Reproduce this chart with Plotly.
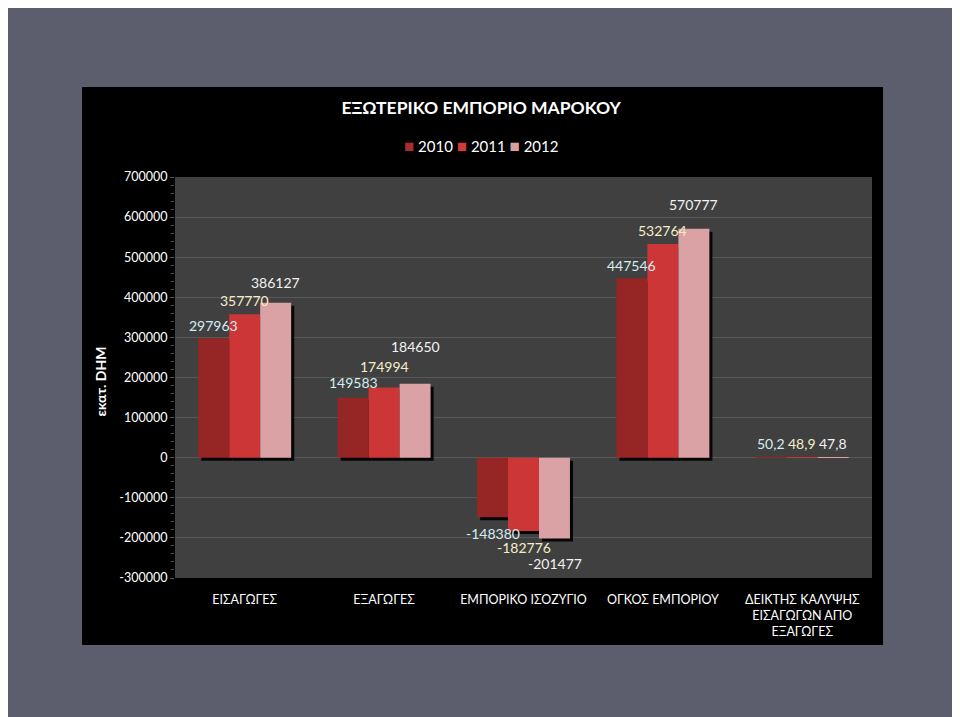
import plotly.graph_objects as go

categories = ['ΕΙΣΑΓΩΓΕΣ', 'ΕΞΑΓΩΓΕΣ', 'ΕΜΠΟΡΙΚΟ ΙΣΟΖΥΓΙΟ', 'ΟΓΚΟΣ ΕΜΠΟΡΙΟΥ',
              'ΔΕΙΚΤΗΣ ΚΑΛΥΨΗΣ<br>ΕΙΣΑΓΩΓΩΝ ΑΠΟ<br>ΕΞΑΓΩΓΕΣ']
years = ['2010', '2011', '2012']
v2010 = [297963, 149583, -148380, 447546, 50.2]
v2011 = [357770, 174994, -182776, 532764, 48.9]
v2012 = [386127, 184650, -201477, 570777, 47.8]
y_ticks = [-300000, -200000, -100000, 0, 100000, 200000, 300000, 400000, 500000, 600000, 700000]

series = [v2010, v2011, v2012]
bar_colors = ['#962525', '#cc3636', '#daa2a4']
legend_colors = ['#aa2c2c', '#d43a3a', '#d9a0a2']
label_colors = ['#d4ecf2', '#f4eec8', '#f2f2f2']
# px gap of each data label from its bar end (as placed in the original)
label_shift = [[13, 15, 16, 13, 14],
               [14, 21, 17, 14, 14],
               [20, 37, 25, 24, 14]]
BAR_W = 0.2222                  # bar width in category units
bar_px = 31                     # same width in pixels (for label offsets)
SH_X = 0.022                    # shadow offset (category units, ~3px)
SH_Y = 7500                     # shadow offset (value units, ~3px)

FONT = 'Lato, "Open Sans", "Noto Sans", sans-serif'


def fmt(v):
    if abs(v) < 1000:
        return f"{v:.1f}".replace('.', ',')
    return str(int(v))


fig = go.Figure()
# drop shadows
for i, vals in enumerate(series):
    fig.add_trace(go.Bar(
        x=categories, y=vals, base=[-SH_Y] * len(vals),
        width=BAR_W, offset=-1.5 * BAR_W + i * BAR_W + SH_X,
        marker=dict(color='rgba(0,0,0,0.9)', line=dict(width=0)),
        showlegend=False, hoverinfo='skip',
    ))

annotations = []
for i, (name, vals, col, lc) in enumerate(zip(years, series, bar_colors, label_colors)):
    fig.add_trace(go.Bar(
        name=name, x=categories, y=vals,
        width=BAR_W, offset=-1.5 * BAR_W + i * BAR_W,
        marker=dict(color=col, line=dict(width=0)),
        showlegend=False,
    ))
    for j, (c, v) in enumerate(zip(categories, vals)):
        s = label_shift[i][j]
        annotations.append(dict(
            x=c, y=v, xref='x', yref='y', text=fmt(v), showarrow=False,
            xshift=(i - 1) * bar_px, yshift=s if v >= 0 else -s,
            xanchor='center', yanchor='middle',
            font=dict(size=14, color=lc, family=FONT),
        ))

# legend (compact, like the original)
legend_text = ' '.join(
    f'<span style="color:{c};font-size:17px">■</span> {y}' for y, c in zip(years, legend_colors))
annotations.append(dict(
    text=legend_text, xref='paper', yref='paper', x=(481 - 175) / 697, y=(578 - 145) / 401,
    showarrow=False, xanchor='center', yanchor='middle',
    font=dict(size=15, color='white', family=FONT)))

annotations.append(dict(
    text='<b>εκατ. DHM</b>', xref='paper', yref='paper', x=(101 - 175) / 697, y=0.49,
    textangle=-90, showarrow=False, font=dict(size=14, color='white', family=FONT),
    xanchor='center', yanchor='middle'))

fig.update_layout(
    width=952, height=709,
    margin=dict(l=167, r=88, t=169, b=139),
    paper_bgcolor='#5c5e6d',
    plot_bgcolor='rgba(0,0,0,0)',
    barmode='overlay',
    font=dict(family=FONT, color='white', size=13),
    title=dict(text='<b>ΕΞΩΤΕΡΙΚΟ ΕΜΠΟΡΙΟ ΜΑΡΟΚΟΥ</b>', x=0.497, xanchor='center',
               y=1 - 100 / 709, yanchor='middle', font=dict(size=17.5, color='white', family=FONT)),
    showlegend=False,
    shapes=[
        dict(type='rect', xref='paper', yref='paper', x0=-0.1334, x1=1.0158, y0=-0.167, y1=1.2244,
             fillcolor='black', line=dict(width=0), layer='below'),
        dict(type='rect', xref='paper', yref='paper', x0=0, x1=1, y0=0, y1=1,
             fillcolor='#404040', line=dict(width=0), layer='below'),
    ],
    annotations=annotations,
)

fig.update_yaxes(
    range=[-300000, 700000], tickvals=y_ticks, ticktext=[str(t) for t in y_ticks],
    showgrid=True, gridcolor='#585858', gridwidth=1,
    zeroline=True, zerolinecolor='#585858', zerolinewidth=1,
    ticks='outside', ticklen=4, tickcolor='#555555',
    minor=dict(dtick=20000, ticks='outside', ticklen=3, tickcolor='#4a4a4a', showgrid=False),
    tickfont=dict(size=12.5, color='white', family=FONT), showline=False,
)
fig.update_xaxes(
    showgrid=False, ticks='', showline=False,
    tickfont=dict(size=12.5, color='white', family=FONT), ticklabelstandoff=12,
)

fig.write_html('out.html')
